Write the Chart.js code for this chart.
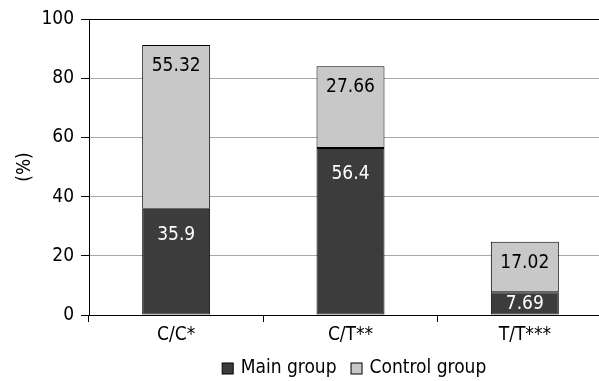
<!DOCTYPE html>
<html>
<head>
<meta charset="utf-8">
<script src="https://cdn.jsdelivr.net/npm/chart.js@4/dist/chart.umd.min.js"></script>
<style>
  html, body { margin: 0; padding: 0; background: #fff; overflow: hidden; }
  #wrap { position: relative; width: 612px; height: 381px; }
</style>
</head>
<body>
<div id="wrap"><canvas id="genoChart"></canvas></div>
<script>
const categories = ['C/C*', 'C/T**', 'T/T***'];
const mainGroup = [35.9, 56.4, 7.69];
const controlGroup = [55.32, 27.66, 17.02];
const seriesNames = ['Main group', 'Control group'];
const yTicks = [0, 20, 40, 60, 80, 100];

const fontFamily = '"Liberation Sans Narrow", "DejaVu Sans Condensed", sans-serif';

// draws the value inside each bar segment, near its top
const valueLabels = {
  id: 'valueLabels',
  afterDatasetsDraw(chart) {
    const ctx = chart.ctx;
    const area = chart.chartArea;
    ctx.save();
    ctx.beginPath();
    ctx.rect(area.left, area.top, area.right - area.left, area.bottom - area.top);
    ctx.clip();
    ctx.font = '19px ' + fontFamily;
    ctx.textAlign = 'center';
    ctx.textBaseline = 'middle';
    chart.data.datasets.forEach((ds, i) => {
      const meta = chart.getDatasetMeta(i);
      meta.data.forEach((bar, j) => {
        const h = bar.base - bar.y;
        const off = Math.min(i === 0 ? 26 : 21, h / 2 + 1);
        ctx.fillStyle = i === 0 ? '#ffffff' : '#000000';
        ctx.fillText(String(ds.data[j]), bar.x, bar.y + off);
      });
    });
    ctx.restore();
  }
};

// legend row under the axis, centred below the visible part of the plot
const bottomLegend = {
  id: 'bottomLegend',
  afterDraw(chart) {
    const ctx = chart.ctx;
    ctx.save();
    ctx.font = '19px ' + fontFamily;
    ctx.textBaseline = 'middle';
    ctx.textAlign = 'left';
    const box = 11;
    const gap = 8;
    const itemGap = 14;
    const items = chart.data.datasets.map((ds) => ({
      text: ds.label,
      color: ds.backgroundColor,
      w: box + gap + ctx.measureText(ds.label).width,
    }));
    const total = items.reduce((s, it) => s + it.w, 0) + itemGap * (items.length - 1);
    let x = 354 - total / 2;
    const y = 368;
    items.forEach((it) => {
      ctx.fillStyle = it.color;
      ctx.fillRect(x + 0.5, y - box / 2 + 0.5, box, box);
      ctx.strokeStyle = '#000';
      ctx.lineWidth = 1;
      ctx.strokeRect(x + 0.5, y - box / 2 + 0.5, box, box);
      ctx.fillStyle = '#000';
      ctx.fillText(it.text, x + box + gap, y);
      x += it.w + itemGap;
    });
    ctx.restore();
  }
};

const data = {
  labels: categories,
  datasets: [
    {
      label: seriesNames[0],
      data: mainGroup,
      backgroundColor: '#3c3c3c',
      borderColor: '#000000',
      borderWidth: 1,
      borderSkipped: false,
      barPercentage: 0.78,
      categoryPercentage: 0.5,
    },
    {
      label: seriesNames[1],
      data: controlGroup,
      backgroundColor: '#c8c8c8',
      borderColor: '#000000',
      borderWidth: 1,
      borderSkipped: false,
      barPercentage: 0.78,
      categoryPercentage: 0.5,
    },
  ],
};

const config = {
  type: 'bar',
  data: data,
  plugins: [valueLabels, bottomLegend],
  options: {
    responsive: true,
    maintainAspectRatio: false,
    animation: false,
    layout: { padding: { top: 19, left: 0, right: 0, bottom: 26 } },
    plugins: {
      tooltip: { enabled: false },
      legend: { display: false },
    },
    scales: {
      x: {
        stacked: true,
        grid: {
          offset: true,
          drawOnChartArea: false,
          drawTicks: true,
          tickLength: 7,
          tickColor: '#000',
        },
        border: { color: '#000', width: 1 },
        ticks: {
          color: '#000',
          font: { family: fontFamily, size: 19 },
          padding: 2,
        },
        afterFit: (scale) => { scale.height = 40; },
      },
      y: {
        stacked: true,
        min: 0,
        max: 100,
        afterBuildTicks: (scale) => { scale.ticks = yTicks.map((v) => ({ value: v })); },
        grid: {
          color: (c) => (c.tick && c.tick.value === 100 ? '#000' : '#a8a8a8'),
          tickColor: '#000',
          tickLength: 8,
        },
        border: { color: '#000', width: 1 },
        ticks: {
          color: '#000',
          font: { family: fontFamily, size: 19 },
          padding: 7,
        },
        title: {
          display: true,
          text: '(%)',
          color: '#000',
          font: { family: fontFamily, size: 19 },
          padding: { top: 14, bottom: 0 },
        },
        afterFit: (scale) => { scale.width = 89; },
      },
    },
  },
};

window.genoChart = new Chart(document.getElementById('genoChart'), config);
</script>
</body>
</html>
